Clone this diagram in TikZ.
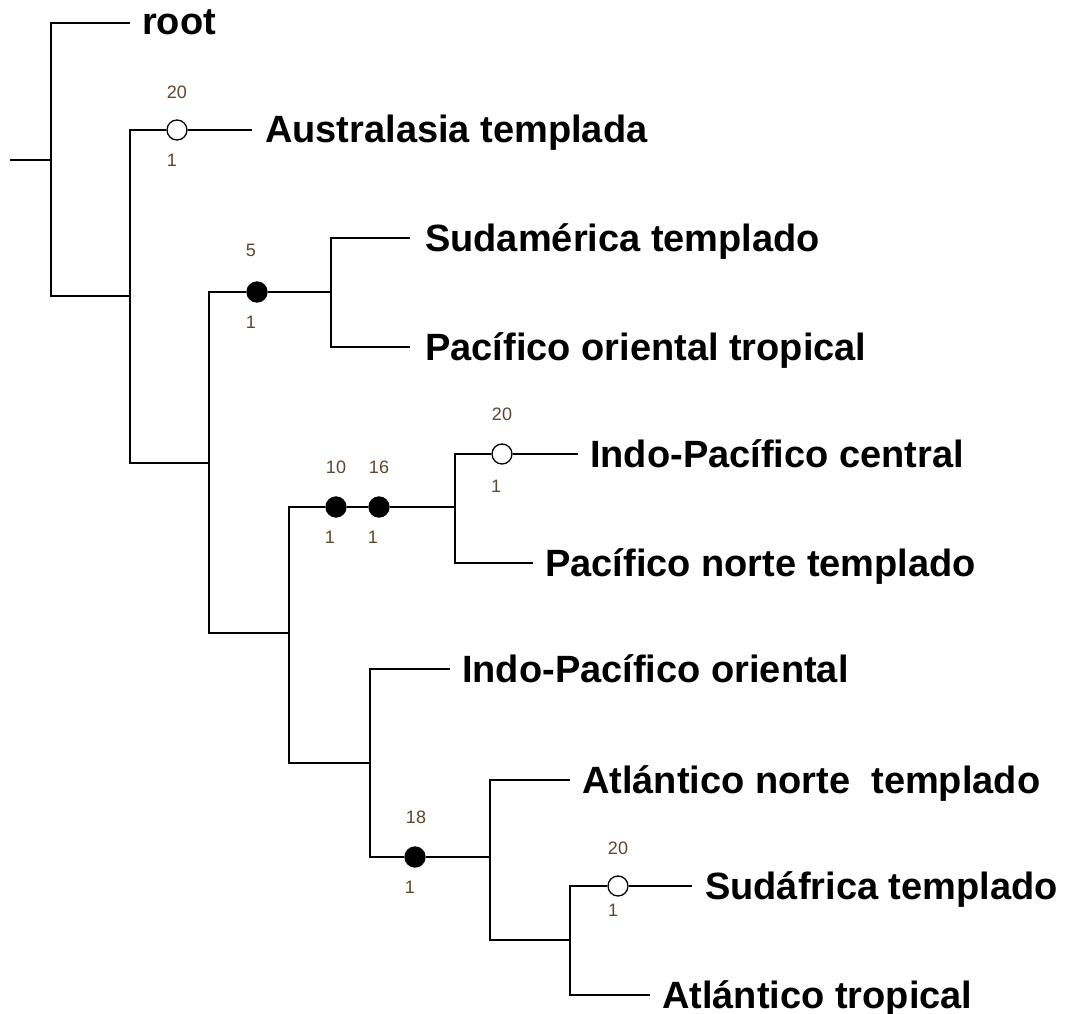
\documentclass[tikz,border=0pt]{standalone}
\usepackage{fontspec}
\setmainfont{Liberation Sans}
\definecolor{numcol}{RGB}{95,70,45}
\begin{document}
\begin{tikzpicture}[x=1pt,y=-1pt,
  edge/.style={line width=1.6pt,black},
  leaf/.style={anchor=base west,inner sep=0pt,font=\fontsize{38}{40}\selectfont\bfseries},
  num/.style={inner sep=0pt,text=numcol,font=\fontsize{18}{20}\selectfont},
  opendot/.style={circle,draw=black,line width=1.3pt,fill=white,minimum size=20pt,inner sep=0pt},
  filldot/.style={circle,draw=black,line width=1.3pt,fill=black,minimum size=20pt,inner sep=0pt}]
\useasboundingbox[fill=white] (0,0) rectangle (1066,1014);
% internal nodes
\coordinate (base) at (10,160);
\coordinate (n1) at (51,160);
\coordinate (n2) at (130,296);
\coordinate (n3) at (209,463);
\coordinate (n4) at (331,292);
\coordinate (n5) at (289,633);
\coordinate (n6) at (455,507);
\coordinate (n7) at (370,763);
\coordinate (n8) at (490,857);
\coordinate (n9) at (570,940);
% leaf ends
\coordinate (eroot) at (130,23);
\coordinate (eaus) at (252,130);
\coordinate (esud) at (410,238);
\coordinate (epot) at (410,347);
\coordinate (eipc) at (578,454);
\coordinate (epnt) at (533,563);
\coordinate (eipo) at (450,669);
\coordinate (eant) at (570,780);
\coordinate (esaf) at (692,886);
\coordinate (eatr) at (650,995);
% dots
\node[opendot] (caus) at (177,130) {};
\node[filldot] (c5) at (257,292) {};
\node[filldot] (c10) at (336,507) {};
\node[filldot] (c16) at (379,507) {};
\node[opendot] (cipc) at (502,454) {};
\node[filldot] (c18) at (415,857) {};
\node[opendot] (csaf) at (618,886) {};
% edges
\draw[edge] (base) -- (n1);
\draw[edge] (n1) |- (eroot);
\draw[edge] (n1) |- (n2);
\draw[edge] (n2) |- (caus);
\draw[edge] (caus) -- (eaus);
\draw[edge] (n2) |- (n3);
\draw[edge] (n3) |- (c5);
\draw[edge] (c5) -- (n4);
\draw[edge] (n4) |- (esud);
\draw[edge] (n4) |- (epot);
\draw[edge] (n3) |- (n5);
\draw[edge] (n5) |- (c10);
\draw[edge] (c10) -- (c16);
\draw[edge] (c16) -- (n6);
\draw[edge] (n6) |- (cipc);
\draw[edge] (cipc) -- (eipc);
\draw[edge] (n6) |- (epnt);
\draw[edge] (n5) |- (n7);
\draw[edge] (n7) |- (eipo);
\draw[edge] (n7) |- (c18);
\draw[edge] (c18) -- (n8);
\draw[edge] (n8) |- (eant);
\draw[edge] (n8) |- (n9);
\draw[edge] (n9) |- (csaf);
\draw[edge] (csaf) -- (esaf);
\draw[edge] (n9) |- (eatr);
% leaf labels
\node[leaf] (lroot) at (142,35) {root};
\node[leaf] (laus) at (265,143) {Australasia templada};
\node[leaf] (lsud) at (425,251) {Sudamérica templado};
\node[leaf] (lpot) at (425,360) {Pacífico oriental tropical};
\node[leaf] (lipc) at (590,467) {Indo-Pacífico central};
\node[leaf] (lpnt) at (545,576) {Pacífico norte templado};
\node[leaf] (lipo) at (462,682) {Indo-Pacífico oriental};
\node[leaf] (lant) at (582,793) {Atlántico norte\ \ templado};
\node[leaf] (lsaf) at (705,899) {Sudáfrica templado};
\node[leaf] (latr) at (662,1008) {Atlántico tropical};
% numbers
\node[num] (t1) at (177,92) {20};
\node[num] (b1) at (172,160) {1};
\node[num] (t2) at (251,250) {5};
\node[num] (b2) at (251,322) {1};
\node[num] (t3) at (336,467) {10};
\node[num] (b3) at (330,537) {1};
\node[num] (t4) at (379,467) {16};
\node[num] (b4) at (373,537) {1};
\node[num] (t5) at (502,414) {20};
\node[num] (b5) at (496,486) {1};
\node[num] (t6) at (416,817) {18};
\node[num] (b6) at (410,887) {1};
\node[num] (t7) at (618,848) {20};
\node[num] (b7) at (613,910) {1};
\end{tikzpicture}
\end{document}
